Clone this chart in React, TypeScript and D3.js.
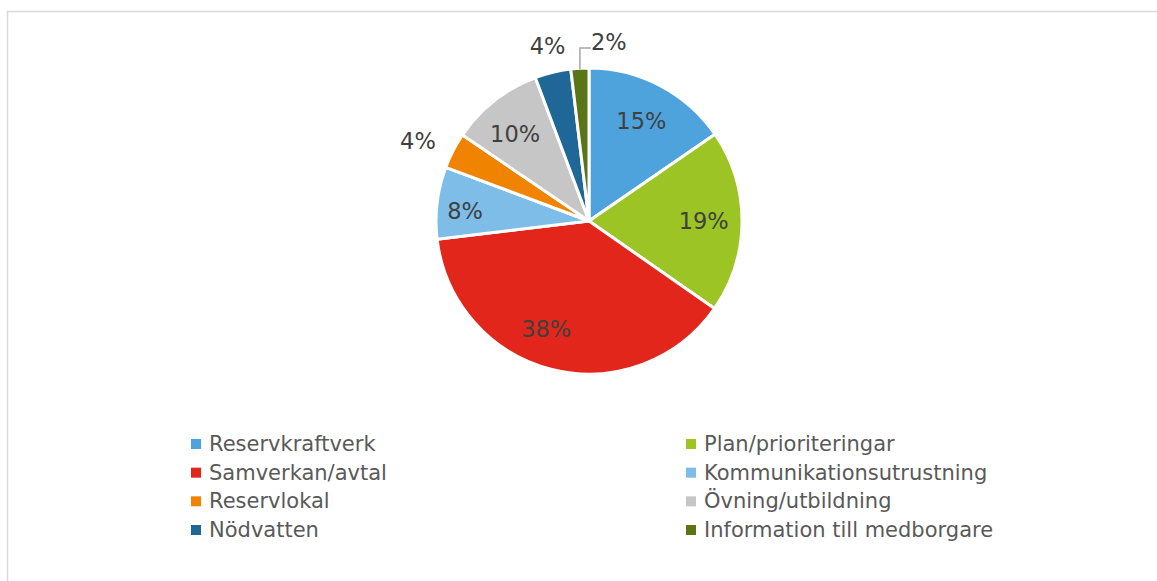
import React from "react";
import * as d3 from "d3";

const categories = [
  "Reservkraftverk",
  "Plan/prioriteringar",
  "Samverkan/avtal",
  "Kommunikationsutrustning",
  "Reservlokal",
  "Övning/utbildning",
  "Nödvatten",
  "Information till medborgare",
];
const values = [15.4, 19.3, 38.4, 7.6, 3.8, 9.8, 3.8, 1.9];
const colors = ["#4FA3DC", "#9BC424", "#E2261B", "#7DBDE8", "#F08400", "#C6C6C6", "#1F6797", "#5A7418"];
// label placement: "in" inside slice, "out" outside, "leader" with leader line
const labelModes = ["in", "in", "in", "in", "out", "in", "out", "leader"];
// small label nudges (px) to mimic the original's best-fit placement
const labelNudgeX = [-1, 0, -15, -10, -8, -3, 2, -2];
const labelNudgeY = [2, 0, -3, 4, 4, 3, 3, 0];

const W = 1157;
const H = 581;
const cx = 589;
const cy = 221;
const R = 153;
const FONT = "'DejaVu Sans', Verdana, sans-serif";
const TEXT = "#404040";
const LEGEND_TEXT = "#595959";

export default function App() {
  const data = categories.map((c, i) => ({ name: c, value: values[i], color: colors[i], mode: labelModes[i] }));
  const pie = d3.pie<any>().value((d: any) => d.value).sort(null);
  const arcs = pie(data);
  const arc = d3.arc<any>().innerRadius(0).outerRadius(R);
  const total = d3.sum(values);

  const legendX = d3.scaleOrdinal<number, number>().domain([0, 1]).range([191, 686]);
  const legendY = d3.scaleLinear().domain([0, 3]).range([444, 530]);

  return (
    <svg width={W} height={H} style={{ position: "absolute", left: 0, top: 0 }} fontFamily={FONT}>
      <rect x={0} y={0} width={W} height={H} fill="#fff" />
      <rect x={7.5} y={11.5} width={W + 20} height={H + 20} fill="none" stroke="#d9d9d9" strokeWidth={1.5} />
      <g transform={`translate(${cx},${cy})`}>
        {arcs.map((a, i) => (
          <path key={i} d={arc(a) as string} fill={a.data.color} stroke="#fff" strokeWidth={3} strokeLinejoin="round" />
        ))}
        {arcs.map((a, i) => {
          const mid = (a.startAngle + a.endAngle) / 2;
          const label = `${Math.round((a.data.value / total) * 100)}%`;
          const sx = Math.sin(mid);
          const sy = -Math.cos(mid);
          const nx = labelNudgeX[i];
          const ny = labelNudgeY[i];
          if (a.data.mode === "in" || a.data.mode === "out") {
            const rr = a.data.mode === "in" ? R * 0.75 : R * 1.2;
            return (
              <text key={i} x={sx * rr + nx} y={sy * rr + ny} textAnchor="middle" dominantBaseline="central" fontSize={22.5} fill={TEXT}>
                {label}
              </text>
            );
          }
          const px = sx * (R - 1);
          const py = sy * (R - 1);
          const ly = -R - 20;
          return (
            <g key={i}>
              <path d={`M${px},${py}V${ly}H${px + 11}`} fill="none" stroke="#a6a6a6" strokeWidth={1.5} />
              <text x={px + 13 + nx} y={ly - 6 + ny} textAnchor="start" dominantBaseline="central" fontSize={22.5} fill={TEXT}>
                {label}
              </text>
            </g>
          );
        })}
      </g>
      <g>
        {data.map((d, i) => {
          const col = i % 2;
          const row = Math.floor(i / 2);
          const x = legendX(col);
          const y = legendY(row);
          return (
            <g key={i}>
              <rect x={x} y={y - 5} width={10} height={10} fill={d.color} />
              <text x={x + 18} y={y} dominantBaseline="central" fontSize={21} fill={LEGEND_TEXT}>
                {d.name}
              </text>
            </g>
          );
        })}
      </g>
    </svg>
  );
}
